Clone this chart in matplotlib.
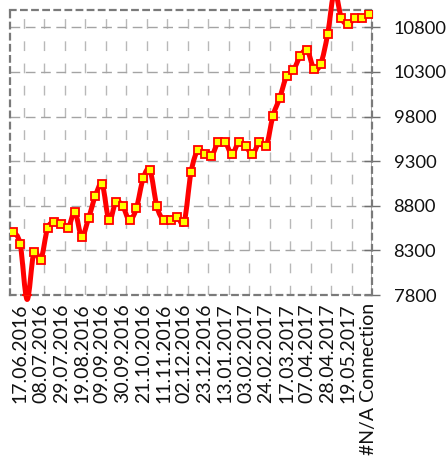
import numpy as np
import matplotlib
matplotlib.use("Agg")
import matplotlib.pyplot as plt
from matplotlib.path import Path
from matplotlib.patches import PathPatch

# weekly closing values, one per category (last category is "#N/A Connection")
values = [8506, 8368, 7750, 8282, 8190, 8548, 8615, 8593, 8548, 8730,
          8454, 8660, 8910, 9041, 8637, 8843, 8798, 8637, 8772, 9108,
          9198, 8794, 8637, 8637, 8678, 8615, 9175, 9422, 9384, 9358,
          9515, 9515, 9377, 9515, 9470, 9377, 9510, 9465, 9807, 10012,
          10255, 10322, 10479, 10546, 10337, 10393, 10722, 11200, 10909, 10835,
          10909, 10909, 10953]

tick_labels = ['17.06.2016', '08.07.2016', '29.07.2016', '19.08.2016',
               '09.09.2016', '30.09.2016', '21.10.2016', '11.11.2016',
               '02.12.2016', '23.12.2016', '13.01.2017', '03.02.2017',
               '24.02.2017', '17.03.2017', '07.04.2017', '28.04.2017',
               '19.05.2017', '#N/A Connection']

y_ticks = [7800, 8300, 8800, 9300, 9800, 10300, 10800]

plt.rcParams['font.family'] = ['Lato', 'DejaVu Sans']


def smooth_path(x, y):
    """Catmull-Rom style bezier path through the points (like Excel smoothing)"""
    n = len(x)
    verts = [(x[0], y[0])]
    codes = [Path.MOVETO]
    for i in range(n - 1):
        p0 = i - 1 if i > 0 else i
        p3 = i + 2 if i + 2 < n else i + 1
        c1 = (x[i] + (x[i + 1] - x[p0]) / 6, y[i] + (y[i + 1] - y[p0]) / 6)
        c2 = (x[i + 1] - (x[p3] - x[i]) / 6, y[i + 1] - (y[p3] - y[i]) / 6)
        verts += [c1, c2, (x[i + 1], y[i + 1])]
        codes += [Path.CURVE4] * 3
    return Path(verts, codes)


W, H = 446, 459
fig = plt.figure(figsize=(W / 100, H / 100), dpi=100)
ax = fig.add_axes([10 / W, 164 / H, 362 / W, 285 / H])

x = np.arange(len(values))
y = np.array(values, dtype=float)

ax.set_xlim(-0.5, len(values) - 0.5)
ax.set_ylim(7800, 10995)

# smoothed red line, allowed to run past the plot area like the original
patch = PathPatch(smooth_path(x, y), fill=False, edgecolor='#ff0000',
                  lw=3.6, joinstyle='round', capstyle='round', zorder=3,
                  clip_on=False)
ax.add_patch(patch)
ax.plot(x, y, ls='none', marker='s', ms=5.6, mfc='#ffff00', mec='#ff0000',
        mew=1.3, zorder=4, clip_on=True)

# x axis: labels every 3rd category, gridlines just after each label
label_pos = np.arange(1, len(values), 3)
ax.set_xticks(label_pos)
ax.set_xticklabels(tick_labels, rotation=90, fontsize=14, color='#111111')
ax.set_xticks(label_pos[:-1] + 0.5, minor=True)
ax.tick_params(axis='x', which='both', length=0, pad=6)
ax.grid(which='minor', axis='x', color='#b8b8b8', lw=1.0,
        linestyle=(0, (7, 9)))

# y axis on the right
ax.yaxis.tick_right()
ax.set_yticks(y_ticks)
ax.set_yticklabels([str(v) for v in y_ticks], fontsize=13.2, color='#111111')
ax.tick_params(axis='y', which='major', direction='inout', length=11,
               width=1.0, color='#6f6f6f', pad=10)
ax.grid(which='major', axis='y', color='#a4a4a4', lw=1.0,
        linestyle=(0, (7, 4)))
ax.set_axisbelow(True)

# plot area border: dark dashed on all sides, plus solid axis line on the right
for side in ['left', 'right', 'top', 'bottom']:
    ax.spines[side].set_color('#7a7a7a')
    ax.spines[side].set_linewidth(1.6)
    ax.spines[side].set_linestyle((0, (2.5, 2.5)))
ax.axvline(len(values) - 0.5, color='#9a9a9a', lw=1.2, zorder=2.4)

fig.savefig('out.png', dpi=100)
